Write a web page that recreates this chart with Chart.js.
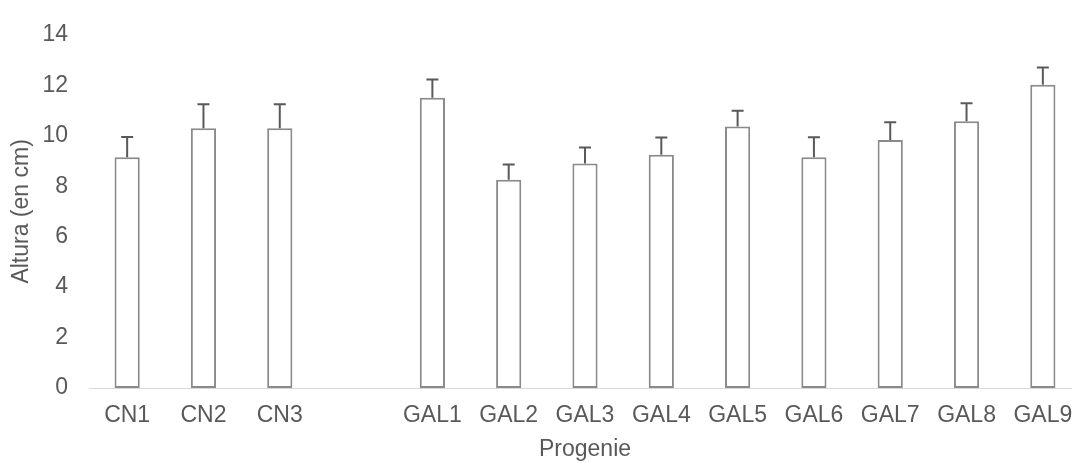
<!DOCTYPE html>
<html>
<head>
<meta charset="utf-8">
<script src="https://cdn.jsdelivr.net/npm/chart.js@4/dist/chart.umd.min.js"></script>
<style>
  html, body { margin: 0; padding: 0; background: #fff; overflow: hidden; }
  #wrap { width: 1072px; height: 466px; overflow: hidden; }
</style>
</head>
<body>
<div id="wrap"><canvas id="grafico" width="1120" height="466"></canvas></div>
<script>
const categorias = ['CN1', 'CN2', 'CN3', '', 'GAL1', 'GAL2', 'GAL3', 'GAL4', 'GAL5', 'GAL6', 'GAL7', 'GAL8', 'GAL9'];
const alturas = [9.15, 10.3, 10.3, null, 11.5, 8.25, 8.9, 9.25, 10.37, 9.15, 9.83, 10.57, 12.02];
const errores = [0.8, 0.95, 0.95, null, 0.73, 0.61, 0.63, 0.68, 0.62, 0.79, 0.7, 0.72, 0.68];
const ticksY = [0, 2, 4, 6, 8, 10, 12, 14];

const gris = '#595959';
const fuente = { family: "'Liberation Sans', Arial, sans-serif", size: 23 };

// barras de error (solo hacia arriba)
const barrasError = {
  id: 'barrasError',
  afterDatasetsDraw(chart) {
    const ctx = chart.ctx;
    const y = chart.scales.y;
    const meta = chart.getDatasetMeta(0);
    ctx.save();
    ctx.strokeStyle = gris;
    ctx.lineWidth = 2;
    meta.data.forEach((bar, i) => {
      if (alturas[i] == null || errores[i] == null) return;
      const yBase = y.getPixelForValue(alturas[i]);
      const yTop = y.getPixelForValue(alturas[i] + errores[i]);
      ctx.beginPath();
      ctx.moveTo(bar.x, yBase);
      ctx.lineTo(bar.x, yTop);
      ctx.moveTo(bar.x - 6, yTop);
      ctx.lineTo(bar.x + 6, yTop);
      ctx.stroke();
    });
    ctx.restore();
  }
};

const ctx = document.getElementById('grafico').getContext('2d');
new Chart(ctx, {
  type: 'bar',
  data: {
    labels: categorias,
    datasets: [{
      label: 'Altura',
      data: alturas,
      backgroundColor: '#ffffff',
      borderColor: '#8a8a8a',
      borderWidth: 2,
      borderSkipped: false,
      categoryPercentage: 1,
      barPercentage: 0.33
    }]
  },
  options: {
    responsive: false,
    animation: false,
    devicePixelRatio: 1,
    layout: { padding: { top: 20, left: 0, right: 39, bottom: 0 } },
    plugins: {
      legend: { display: false },
      tooltip: { enabled: false }
    },
    scales: {
      x: {
        grid: { display: false, drawTicks: false },
        border: { display: true, color: '#d9d9d9', width: 1 },
        ticks: { color: gris, font: fuente, padding: 14, maxRotation: 0, autoSkip: false },
        title: { display: true, text: 'Progenie', color: gris, font: fuente, padding: { top: 4, bottom: 3 } },
        afterFit(scale) { scale.height = 78; }
      },
      y: {
        min: 0,
        max: 14,
        afterBuildTicks(scale) { scale.ticks = ticksY.map(v => ({ value: v })); },
        grid: { display: false, drawTicks: false },
        border: { display: false },
        ticks: { color: gris, font: fuente, padding: 21 },
        title: { display: true, text: 'Altura (en cm)', color: gris, font: fuente, padding: { top: 8, bottom: 0 } },
        afterFit(scale) { scale.width = 89; }
      }
    }
  },
  plugins: [barrasError]
});
</script>
</body>
</html>
